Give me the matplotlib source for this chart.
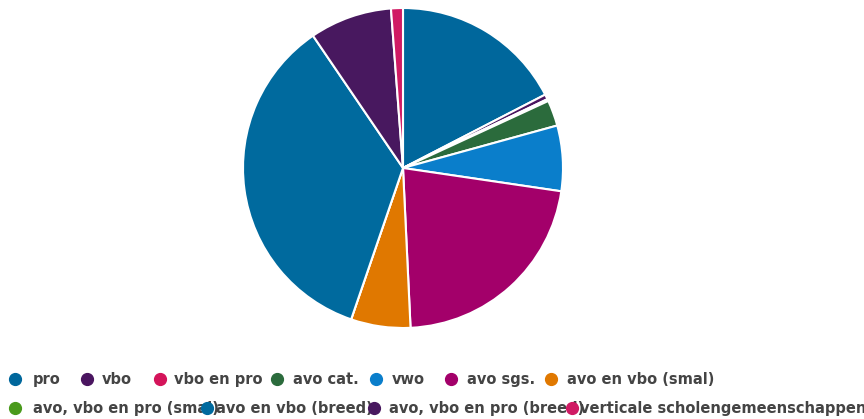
import matplotlib

matplotlib.use("Agg")
import matplotlib.pyplot as plt
from matplotlib.lines import Line2D

# categories, clockwise from 12 o'clock
labels = [
    "pro", "vbo", "vbo en pro", "avo cat.", "vwo", "avo sgs.",
    "avo en vbo (smal)", "avo, vbo en pro (smal)", "avo en vbo (breed)",
    "avo, vbo en pro (breed)", "verticale scholengemeenschappen",
]
shares = [17.4, 0.5, 0.2, 2.6, 6.6, 21.9, 6.0, 0.0, 35.2, 8.3, 1.2]
colors = [
    "#00679c", "#4a1560", "#d4145a", "#2b6b3c", "#0a7ecb", "#a3006a",
    "#e07800", "#4a9a1c", "#006a9e", "#48185f", "#d01a64",
]

W, H = 864, 419
fig = plt.figure(figsize=(W / 100, H / 100), dpi=100)

# pie: centre (403, 168) px, radius 160 px
cx, cy, r = 403, 168, 160
ax = fig.add_axes([(cx - r) / W, (H - cy - r) / H, 2 * r / W, 2 * r / H])
wedges, _ = ax.pie(shares, colors=colors, startangle=90, counterclock=False,
                   wedgeprops=dict(edgecolor="white", linewidth=1.5))
for w in wedges:
    w.set_clip_on(False)
ax.set_xlim(-1, 1)
ax.set_ylim(-1, 1)
ax.set_aspect("equal")

# legend, hand-placed to mimic the cramped two-row layout (px positions)
marker_x = [15, 87, 160, 277, 376, 451, 551, 15, 207, 374, 572]
text_x = [33, 102, 174, 293, 392, 467, 567, 33, 216, 389, 580]
row_y = [379] * 7 + [408] * 4

for lab, tx, ty in zip(labels, text_x, row_y):
    fig.text(tx / W, 1 - ty / H, lab, fontsize=10.5, fontweight="bold",
             color="#444444", va="center", ha="left", zorder=2)
for col, mx, my in zip(colors, marker_x, row_y):
    fig.add_artist(Line2D([mx / W], [1 - my / H], marker="o", markersize=8.5,
                          color=col, linestyle="none", zorder=3,
                          transform=fig.transFigure))

fig.savefig("out.png", dpi=100, facecolor="white")
